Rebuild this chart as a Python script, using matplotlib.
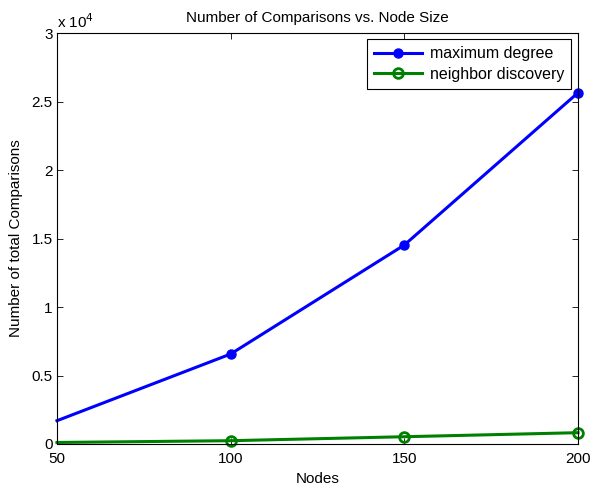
import numpy as np
import matplotlib
matplotlib.use('Agg')
import matplotlib.pyplot as plt
from matplotlib.ticker import FuncFormatter

nodes = [50, 100, 150, 200]
max_degree = [1700, 6570, 14530, 25650]
neighbor_disc = [110, 240, 530, 825]

plt.rcParams['font.family'] = ['Liberation Sans', 'DejaVu Sans']
plt.rcParams['font.size'] = 11

fig = plt.figure(figsize=(5.91, 4.88), dpi=100)
ax = fig.add_axes([0.0964, 0.0902, 0.8816, 0.8418])

ax.plot(nodes, max_degree, color='#0000ff', lw=2.2, marker='o', ms=6.5,
        markevery=[1, 2, 3], clip_on=False, label='maximum degree')
ax.plot(nodes, neighbor_disc, color='#008000', lw=2.2, marker='o', ms=7,
        mfc='none', mew=2, markevery=[1, 2, 3], clip_on=False,
        label='neighbor discovery')

ax.set_xlim(50, 200)
ax.set_ylim(0, 30000)
ax.set_xticks([50, 100, 150, 200])
ax.set_yticks(np.arange(0, 30001, 5000))
ax.yaxis.set_major_formatter(FuncFormatter(lambda v, p: '%g' % (v / 1e4)))
ax.tick_params(direction='in', top=True, right=True, length=4, width=0.6,
               labelsize=11)
ax.tick_params(axis='x', pad=6)
ax.tick_params(axis='y', pad=3)
for s in ax.spines.values():
    s.set_linewidth(0.8)
ax.text(0.0, 1.005, r'x 10$^4$', transform=ax.transAxes, ha='left',
        va='bottom', fontsize=11)

ax.set_xlabel('Nodes', fontsize=11, labelpad=4)
ax.set_ylabel('Number of total Comparisons', fontsize=11, labelpad=6)
ax.set_title('Number of Comparisons vs. Node Size', fontsize=11, pad=8)

leg = ax.legend(loc='upper right', fancybox=False, edgecolor='black',
                framealpha=1, fontsize=11.5, borderpad=0.45,
                labelspacing=0.35, handlelength=3, handletextpad=0.5,
                borderaxespad=0, bbox_to_anchor=(0.987, 0.986))
leg.get_frame().set_linewidth(0.8)

fig.savefig('out.png', dpi=100)
